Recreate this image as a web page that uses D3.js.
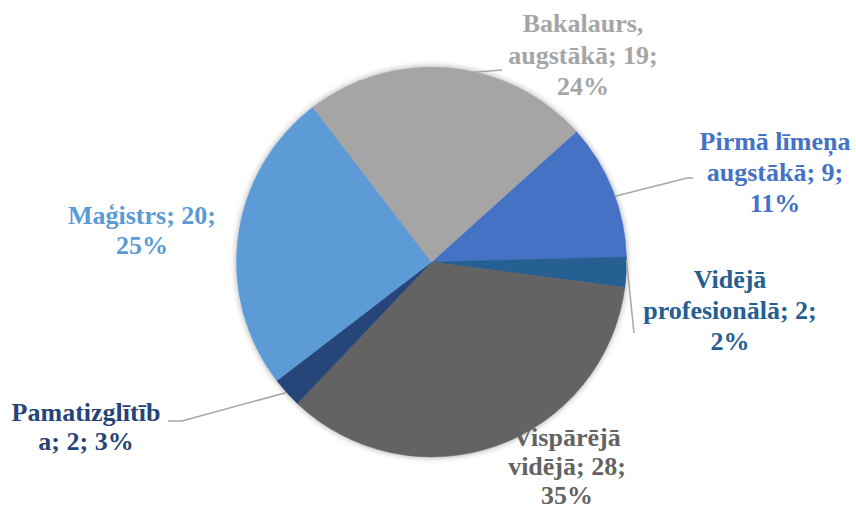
<!DOCTYPE html>
<meta charset="utf-8">
<script src="https://d3js.org/d3.v7.min.js"></script>
<style>
  body { margin: 0; background: #fff; }
  .lbl { font-family: "Liberation Serif", "Times New Roman", serif; font-weight: bold; font-size: 26px; }
</style>
<div id="chart"></div>
<script>
  // data (clockwise, starting at upper right)
  var categories = ["Pirmā līmeņa augstākā", "Vidējā profesionālā", "Vispārējā vidējā",
                    "Pamatizglītība", "Maģistrs", "Bakalaurs, augstākā"];
  var values = [9, 2, 28, 2, 20, 19];
  var percentLabels = ["11%", "2%", "35%", "3%", "25%", "24%"];
  var colors = ["#4472C4", "#255E91", "#636363", "#264478", "#5B9BD5", "#A5A5A5"];

  // label lines as they wrap in the original
  var labelLines = [
    ["Pirmā līmeņa", "augstākā; 9;", "11%"],
    ["Vidējā", "profesionālā; 2;", "2%"],
    ["Vispārējā", "vidējā; 28;", "35%"],
    ["Pamatizglītīb", "a; 2; 3%"],
    ["Maģistrs; 20;", "25%"],
    ["Bakalaurs,", "augstākā; 19;", "24%"]
  ];

  var width = 856, height = 512;
  var cx = 431.5, cy = 262, radius = 195;

  var svg = d3.select("#chart").append("svg")
    .attr("width", width)
    .attr("height", height);

  var defs = svg.append("defs");
  var f = defs.append("filter").attr("id", "shadow")
    .attr("x", "-10%").attr("y", "-10%").attr("width", "120%").attr("height", "120%");
  f.append("feDropShadow")
    .attr("dx", 0).attr("dy", 0).attr("stdDeviation", 3)
    .attr("flood-color", "#000").attr("flood-opacity", 0.35);

  var g = svg.append("g").attr("transform", "translate(" + cx + "," + cy + ")");

  var startA = 48 * Math.PI / 180;
  var pie = d3.pie().sort(null)
    .startAngle(startA).endAngle(startA + 2 * Math.PI)(values);
  var arc = d3.arc().innerRadius(0).outerRadius(radius);

  g.append("g").attr("filter", "url(#shadow)")
    .selectAll("path")
    .data(pie)
    .enter().append("path")
      .attr("d", arc)
      .attr("fill", function(d, i) { return colors[i]; })
      .attr("stroke", function(d, i) { return colors[i]; })
      .attr("stroke-width", 0.5);

  // label layout (block centre x, first line centre y), page coordinates
  var labelLayout = [
    {x: 775, y: 141, gap: 31},
    {x: 730, y: 279, gap: 31},
    {x: 567, y: 437, gap: 29},
    {x: 86,  y: 412, gap: 29},
    {x: 142, y: 215, gap: 30},
    {x: 583, y: 23,  gap: 31.5}
  ];

  // leader lines: from the slice edge to a point near the label
  var leaderEnds = [
    [[687, 178], [693, 178]],
    [[634, 333]],
    null,
    [[182, 421], [168, 421]],
    null,
    [[502, 70]]
  ];
  var leaderStart = [0.55, 0.1, 0, 0.5, 0, 0.18]; // fraction along slice angle

  pie.forEach(function(d, i) {
    if (!leaderEnds[i]) return;
    var a = d.startAngle + (d.endAngle - d.startAngle) * leaderStart[i];
    var p0 = [cx + radius * Math.sin(a), cy - radius * Math.cos(a)];
    svg.append("path")
      .attr("d", d3.line()([p0].concat(leaderEnds[i])))
      .attr("fill", "none")
      .attr("stroke", "#a6a6a6")
      .attr("stroke-width", 1.5);
  });

  var labels = svg.append("g")
    .attr("class", "lbl")
    .attr("text-anchor", "middle");

  labelLines.forEach(function(lines, i) {
    var L = labelLayout[i];
    var t = labels.append("text").attr("fill", colors[i]);
    lines.forEach(function(s, k) {
      t.append("tspan")
        .attr("x", L.x)
        .attr("y", L.y + k * L.gap + 9)
        .text(s);
    });
  });
</script>
